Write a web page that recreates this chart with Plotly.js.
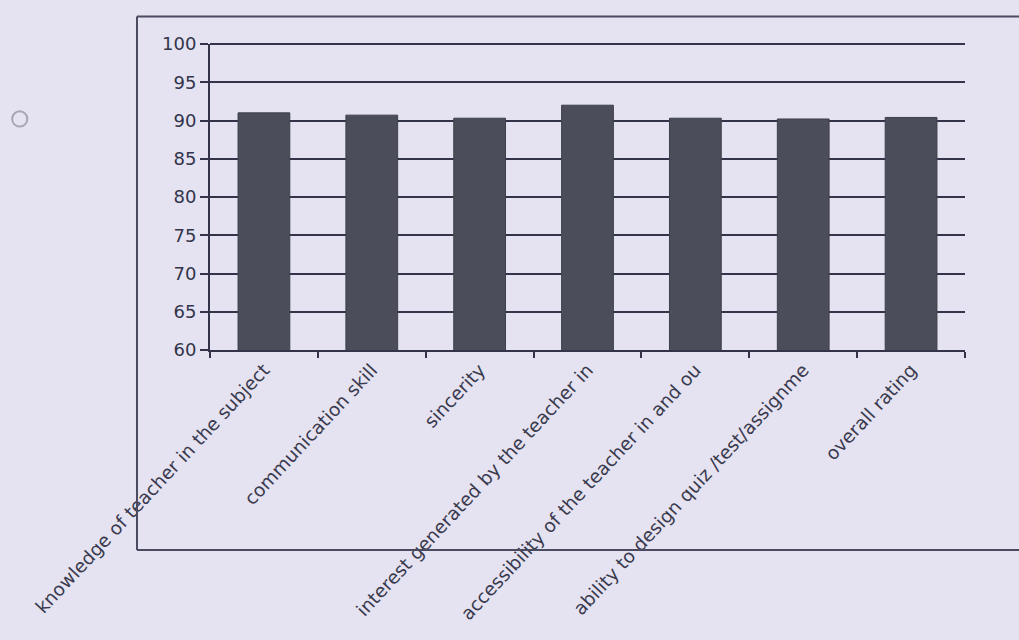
<!DOCTYPE html>
<html>
<head>
<meta charset="utf-8">
<script src="https://cdn.plot.ly/plotly-3.0.1.min.js"></script>
<style>html,body{margin:0;padding:0;background:#e5e3f1;}</style>
</head>
<body>
<div id="chart" style="width:1019px;height:640px;"></div>
<script>
const categories = [
  "knowledge of teacher in the subject",
  "communication skill",
  "sincerity",
  "interest generated by the teacher in",
  "accessibility of the teacher in and ou",
  "ability to design quiz /test/assignme",
  "overall rating"
];
const scores = [91.0, 90.7, 90.3, 92.0, 90.3, 90.2, 90.4];
const yTicks = [60, 65, 70, 75, 80, 85, 90, 95, 100];
const yMax = 100;

const trace = {
  type: "bar",
  x: categories,
  y: scores,
  marker: {color: "#4b4e5a", line: {color: "#3e404a", width: 1}},
  width: 0.48,
  hoverinfo: "x+y"
};

const layout = {
  width: 1019, height: 640,
  margin: {l: 210, r: 54, t: 44, b: 290},
  paper_bgcolor: "#e5e3f1",
  plot_bgcolor: "#e5e3f1",
  font: {family: "'DejaVu Sans', sans-serif", color: "#2e2e3a", size: 16},
  showlegend: false,
  xaxis: {
    type: "category",
    automargin: false,
    tickangle: -47,
    tickson: "boundaries",
    ticks: "outside", ticklen: 6, tickwidth: 2, tickcolor: "#33344a",
    showline: true, linecolor: "#33344a", linewidth: 2,
    showgrid: false,
    tickfont: {family: "'DejaVu Sans', sans-serif", size: 18.5, color: "#3a3a4e"}
  },
  yaxis: {
    range: [60, yMax],
    tickvals: yTicks,
    automargin: false,
    ticks: "outside", ticklen: 8, tickwidth: 2, tickcolor: "#33344a",
    showline: true, linecolor: "#33344a", linewidth: 2,
    showgrid: true, gridcolor: "#33344a", gridwidth: 2,
    zeroline: false,
    tickfont: {family: "'DejaVu Sans', sans-serif", size: 18, color: "#33344a"}
  },
  bargap: 0.52,
  shapes: [
    {type: "line", xref: "paper", yref: "paper", x0: 0, x1: 1, y0: 1, y1: 1,
     line: {color: "#33344a", width: 2}},
    {type: "line", xref: "paper", yref: "paper", x0: -0.0967, x1: 1.09, y0: 1.09, y1: 1.09,
     line: {color: "#4a4a60", width: 2}},
    {type: "line", xref: "paper", yref: "paper", x0: -0.0967, x1: -0.0967, y0: 1.09, y1: -0.654,
     line: {color: "#4a4a60", width: 2}},
    {type: "line", xref: "paper", yref: "paper", x0: -0.0967, x1: 1.09, y0: -0.654, y1: -0.654,
     line: {color: "#4a4a60", width: 2}},
    {type: "circle", xref: "paper", yref: "paper", x0: -0.262, x1: -0.242, y0: 0.78, y1: 0.73,
     line: {color: "#a8a6b6", width: 2}}
  ]
};

Plotly.newPlot("chart", [trace], layout, {displayModeBar: false, staticPlot: true});
</script>
</body>
</html>
